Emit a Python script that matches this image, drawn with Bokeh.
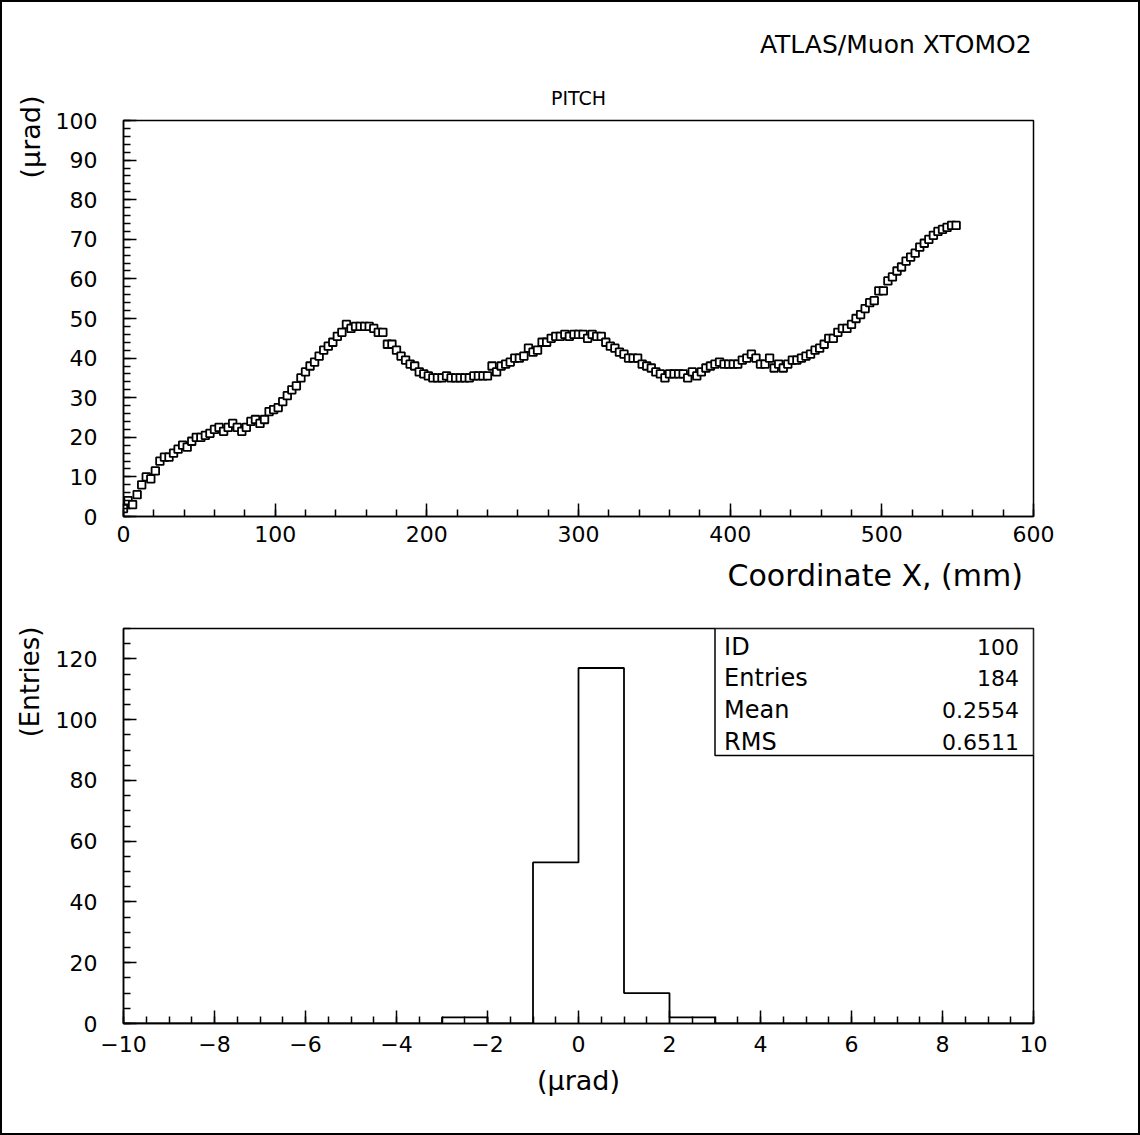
from bokeh.plotting import figure
from bokeh.layouts import column
from bokeh.models import Label, BoxAnnotation, SingleIntervalTicker, Title
from bokeh.embed import file_html
from bokeh.resources import INLINE

# ---------------- data ----------------
x_mm = [0, 3, 6, 9, 12, 15, 18, 21, 24, 27, 30, 33, 36, 39, 42, 45, 48, 51, 54, 57,
        60, 63, 66, 69, 72, 75, 78, 81, 84, 87, 90, 93, 96, 99, 102, 105, 108, 111, 114, 117,
        120, 123, 126, 129, 132, 135, 138, 141, 144, 147, 150, 153, 156, 159, 162, 165, 168, 171, 174, 177,
        180, 183, 186, 189, 192, 195, 198, 201, 204, 207, 210, 213, 216, 219, 222, 225, 228, 231, 234, 237,
        240, 243, 246, 249, 252, 255, 258, 261, 264, 267, 270, 273, 276, 279, 282, 285, 288, 291, 294, 297,
        300, 303, 306, 309, 312, 315, 318, 321, 324, 327, 330, 333, 336, 339, 342, 345, 348, 351, 354, 357,
        360, 363, 366, 369, 372, 375, 378, 381, 384, 387, 390, 393, 396, 399, 402, 405, 408, 411, 414, 417,
        420, 423, 426, 429, 432, 435, 438, 441, 444, 447, 450, 453, 456, 459, 462, 465, 468, 471, 474, 477,
        480, 483, 486, 489, 492, 495, 498, 501, 504, 507, 510, 513, 516, 519, 522, 525, 528, 531, 534, 537,
        540, 543, 546, 549]

pitch_urad = [2, 4, 3, 5.5, 8, 10, 9.5, 11.5, 14, 15, 15, 16, 17, 18, 17.5, 19, 20, 20, 20.5, 21,
              22, 22.5, 21.5, 22.5, 23.5, 22.5, 21.5, 22.5, 24, 24.5, 23.5, 24.5, 26.5, 27, 27.5, 29, 30.5, 32, 33, 35,
              36.5, 38, 39, 40.5, 42, 43, 44, 45.5, 46.5, 48.5, 47.5, 48, 48, 48, 48, 47.5, 46.5, 46.5, 43.5, 43.5,
              42, 40.5, 39.5, 38.5, 38, 36.5, 36, 35.5, 35, 35, 35, 35.5, 35, 35, 35, 35, 35, 35.5, 35.5, 35.5,
              35.5, 38, 36.5, 38, 38.5, 39, 40, 40, 40.5, 42.5, 41.5, 42, 44, 44, 45, 45.5, 45.5, 46, 45.5, 46,
              46, 46, 45, 46, 45.5, 45.5, 44, 43, 42.5, 41.5, 41, 40, 40, 40, 38.5, 38, 37.5, 36.5, 36, 35,
              36, 36, 36, 36, 35, 36.5, 35.5, 36.5, 37.5, 38, 38.5, 39, 38.5, 38.5, 38.5, 38.5, 39.5, 40, 41, 40,
              38.5, 38.5, 40, 37.5, 38.5, 37.5, 38.5, 39.5, 39.5, 40, 40.5, 41, 42, 42.5, 43.5, 45, 45, 46.5, 47.5, 47.5,
              48.5, 50, 51, 52.5, 54, 54.5, 57, 57, 59.5, 60.5, 62, 63, 64.5, 65.5, 66.5, 68, 69, 70, 71, 72,
              72.5, 73, 73.5, 73.5]

hist_edges = [-10, -9, -8, -7, -6, -5, -4, -3, -2, -1, 0, 1, 2, 3, 4, 5, 6, 7, 8, 9, 10]
hist_counts = [0, 0, 0, 0, 0, 0, 0, 2, 0, 53, 117, 10, 2, 0, 0, 0, 0, 0, 0, 0]

stat_names = ["ID", "Entries", "Mean", "RMS"]
stat_values = ["100", "184", "0.2554", "0.6511"]

top_title = "ATLAS/Muon  XTOMO2"
plot1_title = "PITCH"
plot1_xlabel = "Coordinate X,  (mm)"
plot1_ylabel = "(\u03bcrad)"
plot2_xlabel = "(\u03bcrad)"
plot2_ylabel = "(Entries)"

FONT = "DejaVu Sans"
TICK_FS = "22px"


def style_axes(p, xint, xminor, yint, yminor):
    p.xaxis.ticker = SingleIntervalTicker(interval=xint, num_minor_ticks=xminor)
    p.yaxis.ticker = SingleIntervalTicker(interval=yint, num_minor_ticks=yminor)
    for ax in (p.xaxis[0], p.yaxis[0]):
        ax.axis_line_color = "black"
        ax.axis_line_width = 1.5
        ax.major_tick_in = 13
        ax.major_tick_out = 0
        ax.minor_tick_in = 7
        ax.minor_tick_out = 0
        ax.major_tick_line_color = "black"
        ax.minor_tick_line_color = "black"
        ax.major_tick_line_width = 1.5
        ax.minor_tick_line_width = 1.5
        ax.major_label_text_font = FONT
        ax.major_label_text_font_size = TICK_FS
        ax.major_label_text_color = "black"
    p.xaxis.major_label_standoff = 9
    p.yaxis.major_label_standoff = 26
    p.yaxis.major_label_orientation = "horizontal"
    p.xgrid.visible = False
    p.ygrid.visible = False
    p.outline_line_color = "black"
    p.outline_line_width = 1.5
    p.background_fill_color = "white"
    p.border_fill_color = "white"


# ---------------- top plot ----------------
p1 = figure(frame_width=910, frame_height=396, min_border_left=121, min_border_right=105,
            min_border_top=118, min_border_bottom=92, x_range=(0, 600), y_range=(0, 100),
            output_backend="svg", toolbar_location=None, title=top_title)
style_axes(p1, 100, 5, 10, 5)
p1.title.align = "right"
p1.title.text_font = FONT
p1.title.text_font_size = "25px"
p1.title.text_font_style = "normal"
p1.title.text_color = "black"
p1.title.standoff = 30
p1.title.offset = -6
p1.add_layout(Title(text=plot1_title, align="center", text_font=FONT, text_font_size="19px",
                    text_font_style="normal", text_color="black", standoff=23), "above")
p1.add_layout(Title(text=plot1_xlabel, align="right", text_font=FONT, text_font_size="30px",
                    text_font_style="normal", text_color="black", standoff=23, offset=1), "below")
p1.add_layout(Title(text=plot1_ylabel, align="right", text_font=FONT, text_font_size="27px",
                    text_font_style="normal", text_color="black", standoff=14, offset=-25), "left")

p1.scatter(x_mm, pitch_urad, marker="square", size=7.5, fill_color="white",
           line_color="black", line_width=1.8)

# ---------------- bottom plot ----------------
p2 = figure(frame_width=910, frame_height=395, min_border_left=121, min_border_right=105,
            min_border_top=20, min_border_bottom=110, x_range=(-10, 10), y_range=(0, 130),
            output_backend="svg", toolbar_location=None)
style_axes(p2, 2, 4, 20, 4)
p2.xaxis.major_label_standoff = 12
p2.xaxis.major_label_overrides = {-10: "\u221210", -8: "\u22128", -6: "\u22126",
                                  -4: "\u22124", -2: "\u22122"}
p2.xaxis.axis_label = plot2_xlabel
p2.xaxis.axis_label_text_font = FONT
p2.xaxis.axis_label_text_font_size = "27px"
p2.xaxis.axis_label_text_font_style = "normal"
p2.xaxis.axis_label_text_color = "black"
p2.xaxis.axis_label_standoff = 10
p2.add_layout(Title(text=plot2_ylabel, align="right", text_font=FONT, text_font_size="26px",
                    text_font_style="normal", text_color="black", standoff=15, offset=-2), "left")

hx = [hist_edges[0]]
hy = [0]
for i, c in enumerate(hist_counts):
    hx += [hist_edges[i], hist_edges[i + 1]]
    hy += [c, c]
hx.append(hist_edges[-1])
hy.append(0)
p2.line(hx, hy, line_color="black", line_width=1.8)

p2.add_layout(BoxAnnotation(left=3.0, right=10, bottom=88.2, top=130, fill_color="white",
                            fill_alpha=1.0, line_color="black", line_alpha=1.0, line_width=1.5))
row_y = [123.8, 113.6, 103.1, 92.6]
for name, val, yy in zip(stat_names, stat_values, row_y):
    p2.add_layout(Label(x=3.2, y=yy, text=name, text_font=FONT, text_font_size="24px",
                        text_align="left", text_baseline="middle", text_color="black"))
    p2.add_layout(Label(x=9.68, y=yy, text=val, text_font=FONT, text_font_size="22px",
                        text_align="right", text_baseline="middle", text_color="black"))

page = column(p1, p2, styles={"border": "2px solid black", "background-color": "white"})

open("out.html", "w").write(file_html(page, INLINE))
